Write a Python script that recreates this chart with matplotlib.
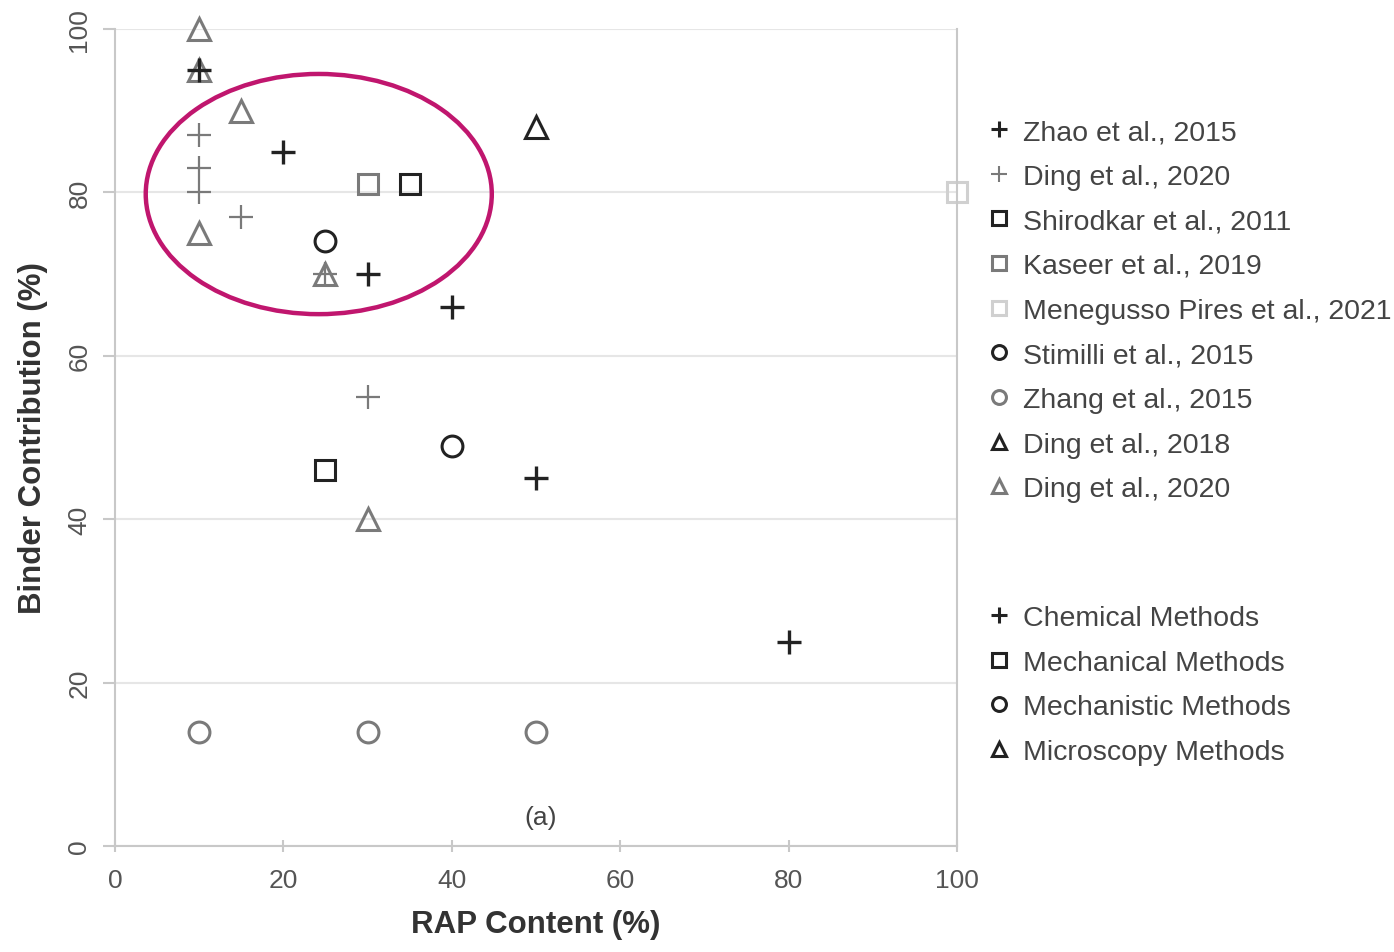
import matplotlib
matplotlib.use("Agg")
import matplotlib.pyplot as plt
from matplotlib.lines import Line2D
from matplotlib.patches import Ellipse

plt.rcParams['font.family'] = ['Liberation Sans', 'DejaVu Sans']

# data: RAP content (%) vs binder contribution (%)
zhao_2015_x = [10, 20, 30, 40, 50, 80]
zhao_2015_y = [95, 85, 70, 66, 45, 25]
ding_2020p_x = [10, 10, 10, 15, 25, 30]
ding_2020p_y = [87, 83, 80, 77, 70, 55]
shirodkar_2011_x = [35, 25]
shirodkar_2011_y = [81, 46]
kaseer_2019_x = [30]
kaseer_2019_y = [81]
menegusso_2021_x = [100]
menegusso_2021_y = [80]
stimilli_2015_x = [25, 40]
stimilli_2015_y = [74, 49]
zhang_2015_x = [10, 30, 50]
zhang_2015_y = [14, 14, 14]
ding_2018_x = [50]
ding_2018_y = [88]
ding_2020t_x = [10, 10, 15, 10, 25, 30]
ding_2020t_y = [100, 95, 90, 75, 70, 40]

DARK = '#222222'
MID = '#7a7a7a'
LIGHT = '#d0d0d0'

series = [
    (ding_2020t_x, ding_2020t_y, '^', MID, 'Ding et al., 2020'),
    (ding_2018_x, ding_2018_y, '^', DARK, 'Ding et al., 2018'),
    (zhang_2015_x, zhang_2015_y, 'o', MID, 'Zhang et al., 2015'),
    (stimilli_2015_x, stimilli_2015_y, 'o', DARK, 'Stimilli et al., 2015'),
    (menegusso_2021_x, menegusso_2021_y, 's', LIGHT, 'Menegusso Pires et al., 2021'),
    (kaseer_2019_x, kaseer_2019_y, 's', MID, 'Kaseer et al., 2019'),
    (shirodkar_2011_x, shirodkar_2011_y, 's', DARK, 'Shirodkar et al., 2011'),
    (ding_2020p_x, ding_2020p_y, '+', MID, 'Ding et al., 2020'),
    (zhao_2015_x, zhao_2015_y, '+', DARK, 'Zhao et al., 2015'),
]

fig = plt.figure(figsize=(13.94, 9.53), dpi=100)
ax = fig.add_axes([0.0825, 0.1112, 0.604, 0.8573])

for xs, ys, m, c, lab in series:
    if m == '+':
        ax.plot(xs, ys, linestyle='none', marker='+', markersize=17,
                markeredgewidth=2.4 if c == DARK else 1.6, color=c, clip_on=False)
    else:
        ax.plot(xs, ys, linestyle='none', marker=m, markersize=15 if m != '^' else 16,
                markerfacecolor='none', markeredgecolor=c, markeredgewidth=2.2, clip_on=False)

ax.add_patch(Ellipse((24.2, 79.8), 41.1, 29.4, fill=False, edgecolor='#c0166e', linewidth=3.2))
ax.text(50.5, 3.5, '(a)', ha='center', va='center', fontsize=19, color='#444444')

ax.set_xlim(0, 100)
ax.set_ylim(0, 100)
ax.set_xticks([0, 20, 40, 60, 80, 100])
ax.set_yticks([0, 20, 40, 60, 80, 100])
ax.grid(axis='y', color='#e6e6e6', linewidth=1.5)
ax.set_axisbelow(True)
for s in ['left', 'bottom', 'right']:
    ax.spines[s].set_color('#c8c8c8')
    ax.spines[s].set_linewidth(1.5)
ax.spines['top'].set_visible(False)
ax.tick_params(axis='both', colors='#c8c8c8', labelcolor='#555555', labelsize=19, width=1.5)
ax.tick_params(axis='x', direction='inout', length=8, pad=12)
ax.tick_params(axis='y', length=9, pad=8)
for t in ax.get_yticklabels():
    t.set_rotation(90)
    t.set_va('center')
ax.set_xlabel('RAP Content (%)', fontsize=22.5, fontweight='bold', color='#333333', labelpad=12)
ax.set_ylabel('Binder Contribution (%)', fontsize=22.5, fontweight='bold', color='#333333', labelpad=14)

def handle(m, c):
    if m == '+':
        return Line2D([], [], linestyle='none', marker='+', markersize=12,
                      markeredgewidth=2.2 if c == DARK else 1.5, color=c)
    return Line2D([], [], linestyle='none', marker=m, markersize=10,
                  markerfacecolor='none', markeredgecolor=c, markeredgewidth=2.2)

study_items = series[::-1]
leg1 = fig.legend([handle(m, c) for _, _, m, c, _ in study_items],
                  [lab for *_, lab in study_items],
                  loc='upper left', bbox_to_anchor=(0.7, 0.886), frameon=False,
                  fontsize=20.5, labelcolor='#444444', handlelength=0.8, handletextpad=0.45,
                  labelspacing=0.655, borderaxespad=0)

method_labels = ['Chemical Methods', 'Mechanical Methods', 'Mechanistic Methods', 'Microscopy Methods']
method_markers = ['+', 's', 'o', '^']
leg2 = fig.legend([handle(m, DARK) for m in method_markers], method_labels,
                  loc='upper left', bbox_to_anchor=(0.7, 0.376), frameon=False,
                  fontsize=20.5, labelcolor='#444444', handlelength=0.8, handletextpad=0.45,
                  labelspacing=0.655, borderaxespad=0)

fig.savefig('out.png', dpi=100)
